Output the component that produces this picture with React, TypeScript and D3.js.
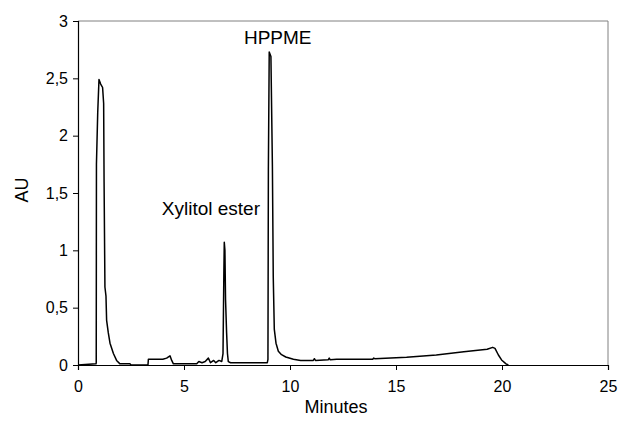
import * as d3 from 'd3';
import { useEffect, useRef } from 'react';

// chromatogram trace (minutes, AU)
const minutes = [
  0, 0.85, 0.86, 0.87, 0.93, 0.99, 1.03, 1.07, 1.16, 1.21, 1.23, 1.27, 1.32, 1.35, 1.43, 1.51, 1.67, 1.82, 1.98, 2.45, 2.5,
  3.3, 3.32, 4.0, 4.18, 4.34, 4.42, 4.5, 5.6, 5.7, 5.85, 6.0, 6.15, 6.25, 6.4, 6.5, 6.65, 6.78,
  6.84, 6.88, 6.9, 6.93, 6.96, 7.01, 7.05, 7.09, 7.2, 8.93,
  8.96, 8.98, 9.02, 9.1, 9.17, 9.21, 9.26, 9.34, 9.45, 9.6, 9.8, 10.16, 10.5, 11.1, 11.15, 11.2, 11.8, 11.85, 11.9, 12.2,
  13.9, 13.95, 14.0, 15.5, 16.9, 18.2, 19.3, 19.56, 19.67, 19.83, 19.98, 20.19, 20.3,
];
const au = [
  0, 0.01, 0.02, 1.75, 2.2, 2.49, 2.47, 2.45, 2.42, 2.28, 1.6, 0.68, 0.6, 0.39, 0.28, 0.19, 0.1, 0.04, 0.01, 0.01, 0,
  0, 0.05, 0.05, 0.06, 0.08, 0.04, 0.01, 0.01, 0.03, 0.02, 0.03, 0.06, 0.02, 0.04, 0.02, 0.04, 0.03,
  0.1, 0.8, 1.07, 1.0, 0.57, 0.28, 0.1, 0.03, 0.02, 0.02,
  0.05, 1.7, 2.73, 2.69, 1.73, 0.77, 0.31, 0.19, 0.12, 0.09, 0.07, 0.05, 0.04, 0.04, 0.055, 0.04, 0.045, 0.06, 0.045, 0.05,
  0.05, 0.06, 0.055, 0.067, 0.087, 0.116, 0.137, 0.154, 0.145, 0.087, 0.044, 0.01, 0,
];

const xTicks = [0, 5, 10, 15, 20, 25];
const yTicks = [0, 0.5, 1, 1.5, 2, 2.5, 3];

// label anchor = centre of text, in data units
const peakLabels = [
  { text: 'Xylitol ester', x: 6.27, y: 1.365 },
  { text: 'HPPME', x: 9.42, y: 2.86 },
];

const FONT = '"Liberation Sans", Arial, sans-serif';

export default function App() {
  const ref = useRef(null);
  const width = 619;
  const height = 434;

  useEffect(() => {
    document.body.style.margin = '0';
    const svg = d3.select(ref.current);
    svg.selectAll('*').remove();

    const margin = { top: 21, right: 11, bottom: 69, left: 78 };
    const x = d3.scaleLinear().domain([0, 25]).range([margin.left, width - margin.right]);
    const y = d3.scaleLinear().domain([0, 3]).range([height - margin.bottom, margin.top]);
    const fmt = (d) => String(d).replace('.', ',');

    svg.append('rect').attr('width', width).attr('height', height).attr('fill', '#fff');

    // grey frame top + right
    svg.append('path')
      .attr('d', `M${x(0)},${y(3)}H${x(25)}V${y(0)}`)
      .attr('fill', 'none')
      .attr('stroke', '#808080')
      .attr('stroke-width', 1);

    // axes
    const yAxis = svg.append('g')
      .attr('transform', `translate(${x(0)},0)`)
      .call(d3.axisLeft(y).tickValues(yTicks).tickSize(5).tickPadding(5).tickFormat(fmt));
    const xAxis = svg.append('g')
      .attr('transform', `translate(0,${y(0)})`)
      .call(d3.axisBottom(x).tickValues(xTicks).tickSize(5).tickPadding(11).tickFormat(fmt));
    [xAxis, yAxis].forEach(a => {
      a.select('.domain').attr('stroke', '#000').attr('stroke-width', 1.2);
      a.selectAll('.tick line').attr('stroke', '#000');
      a.selectAll('text')
        .attr('fill', '#000')
        .style('font-family', FONT)
        .style('font-size', '16px');
    });

    // trace
    const pts = minutes.map((m, i) => [m, au[i]]);
    svg.append('path')
      .datum(pts)
      .attr('fill', 'none')
      .attr('stroke', '#000')
      .attr('stroke-width', 1.5)
      .attr('stroke-linejoin', 'round')
      .attr('d', d3.line().x(d => x(d[0])).y(d => y(d[1])));

    // peak annotations
    svg.selectAll('text.peak')
      .data(peakLabels)
      .enter()
      .append('text')
      .attr('class', 'peak')
      .attr('x', d => x(d.x))
      .attr('y', d => y(d.y))
      .attr('dy', '0.35em')
      .attr('text-anchor', 'middle')
      .style('font-family', FONT)
      .style('font-size', '19px')
      .text(d => d.text);

    // axis titles
    svg.append('text')
      .attr('x', 336)
      .attr('y', 413)
      .attr('text-anchor', 'middle')
      .style('font-family', FONT)
      .style('font-size', '18px')
      .text('Minutes');
    svg.append('text')
      .attr('transform', `translate(28,190) rotate(-90)`)
      .attr('text-anchor', 'middle')
      .style('font-family', FONT)
      .style('font-size', '18px')
      .text('AU');

    return () => {
      svg.selectAll('*').remove();
    };
  }, []);

  return <svg ref={ref} width={width} height={height} style={{ display: 'block' }}></svg>;
}
